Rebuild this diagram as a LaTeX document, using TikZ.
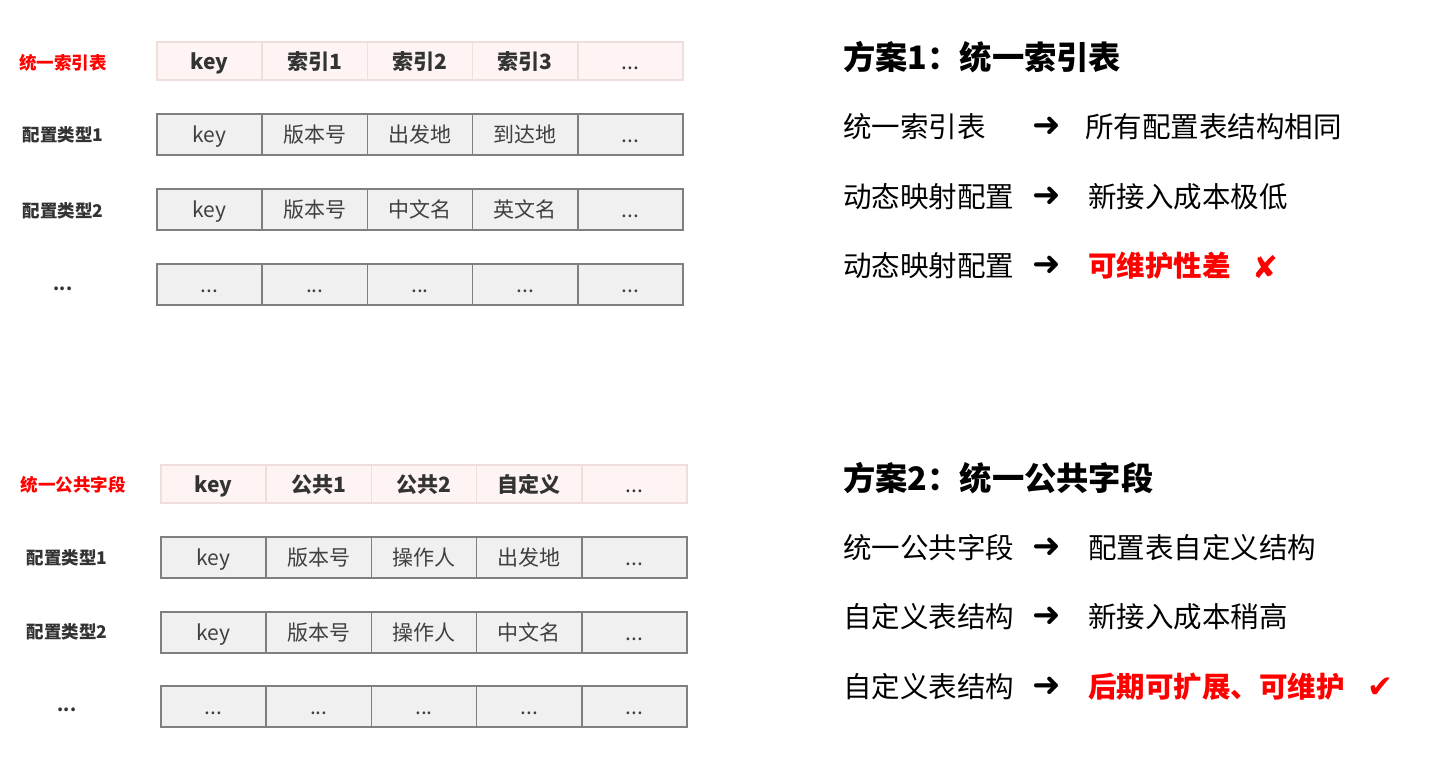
\documentclass[tikz,border=0pt]{standalone}
\usepackage{fontspec}
\setmainfont{Noto Sans CJK SC}
\newfontfamily\symfont{DejaVu Sans}
\definecolor{hdrfill}{HTML}{FDF4F3}
\definecolor{hdrline}{HTML}{F0DEDC}
\definecolor{rowfill}{HTML}{F0F0F0}
\definecolor{rowline}{HTML}{7F7F7F}
\definecolor{celltext}{HTML}{404040}
\definecolor{labeltext}{HTML}{333333}
\definecolor{alertred}{HTML}{FF0000}
\newcommand\myel{...}
\newcommand\myelr{\mdseries ...}
\newcommand\mkrow[5]{%
  \foreach \t [count=\i] in {#5} {
    \node[#4] (#1-\i) at ({#2+(\i-0.5)*105.2}, #3) {\t};
  }}
\tikzset{
  hdrcell/.style={draw=hdrline, fill=hdrfill, line width=1.5pt, minimum width=105.2pt, minimum height=38pt, inner sep=0pt,
    text height=18.5pt, text depth=2.5pt,
    font=\fontsize{21}{21}\selectfont\bfseries, text=labeltext},
  rowcell/.style={draw=rowline, fill=rowfill, line width=1.5pt, minimum width=105.2pt, minimum height=41pt, inner sep=0pt,
    text height=18.5pt, text depth=2.5pt,
    font=\fontsize{21}{21}\selectfont, text=celltext},
  sidelabel/.style={inner sep=0pt, text height=15.4pt, text depth=2.1pt, font=\fontsize{17.5}{17.5}\selectfont\bfseries, text=labeltext},
  redlabel/.style={inner sep=0pt, text height=15.4pt, text depth=2.1pt, font=\fontsize{17.5}{17.5}\selectfont\bfseries, text=alertred},
  title/.style={inner sep=0pt, text height=28.4pt, text depth=3.9pt, anchor=west, font=\fontsize{32.3}{32.3}\selectfont\bfseries, text=black},
  linetext/.style={inner sep=0pt, text height=25.1pt, text depth=3.4pt, anchor=west, font=\fontsize{28.5}{28.5}\selectfont, text=black},
  redtext/.style={inner sep=0pt, text height=25.1pt, text depth=3.4pt, anchor=west, font=\fontsize{28.5}{28.5}\selectfont\bfseries, text=alertred},
  arrowsym/.style={inner sep=0pt, font=\symfont\fontsize{34}{34}\selectfont, text=black},
  marksym/.style={inner sep=0pt, font=\symfont\fontsize{31}{31}\selectfont\bfseries, text=alertred},
}
\begin{document}
\begin{tikzpicture}[x=1pt,y=-1pt]
\useasboundingbox (0,0) rectangle (1450,758);
% ---------- top left table ----------
\node[redlabel] (la0) at (63,63) {统一索引表};
\node[sidelabel] (la1) at (63,135) {配置类型1};
\node[sidelabel] (la2) at (63,211) {配置类型2};
\node[sidelabel] (la3) at (63,284) {\myel};
\mkrow{ta0}{157}{61}{hdrcell}{key,索引1,索引2,索引3,\myelr}
\mkrow{ta1}{157}{134.5}{rowcell}{key,版本号,出发地,到达地,\myel}
\mkrow{ta2}{157}{209.5}{rowcell}{key,版本号,中文名,英文名,\myel}
\mkrow{ta3}{157}{284.5}{rowcell}{\myel,\myel,\myel,\myel,\myel}
% ---------- bottom left table ----------
\node[redlabel] (lb0) at (73,485) {统一公共字段};
\node[sidelabel] (lb1) at (67,558) {配置类型1};
\node[sidelabel] (lb2) at (67,632) {配置类型2};
\node[sidelabel] (lb3) at (67,705) {\myel};
\mkrow{tb0}{161}{484}{hdrcell}{key,公共1,公共2,自定义,\myelr}
\mkrow{tb1}{161}{557.5}{rowcell}{key,版本号,操作人,出发地,\myel}
\mkrow{tb2}{161}{632.5}{rowcell}{key,版本号,操作人,中文名,\myel}
\mkrow{tb3}{161}{706.5}{rowcell}{\myel,\myel,\myel,\myel,\myel}
% ---------- right: scheme 1 ----------
\node[title] (s1t) at (843,57) {方案1：统一索引表};
\node[linetext] (s1a) at (843,127) {统一索引表};
\node[arrowsym] (s1aa) at (1047,127) {➜};
\node[linetext] (s1ab) at (1085,127) {所有配置表结构相同};
\node[linetext] (s1b) at (843,197) {动态映射配置};
\node[arrowsym] (s1ba) at (1047,197) {➜};
\node[linetext] (s1bb) at (1088,197) {新接入成本极低};
\node[linetext] (s1c) at (843,266) {动态映射配置};
\node[arrowsym] (s1ca) at (1047,266) {➜};
\node[redtext] (s1cb) at (1088,266) {可维护性差};
\node[marksym] (s1cm) at (1265,267) {✘};
% ---------- right: scheme 2 ----------
\node[title] (s2t) at (843,478) {方案2：统一公共字段};
\node[linetext] (s2a) at (843,548) {统一公共字段};
\node[arrowsym] (s2aa) at (1047,548) {➜};
\node[linetext] (s2ab) at (1088,548) {配置表自定义结构};
\node[linetext] (s2b) at (843,617) {自定义表结构};
\node[arrowsym] (s2ba) at (1047,617) {➜};
\node[linetext] (s2bb) at (1088,617) {新接入成本稍高};
\node[linetext] (s2c) at (843,687) {自定义表结构};
\node[arrowsym] (s2ca) at (1047,687) {➜};
\node[redtext] (s2cb) at (1088,687) {后期可扩展、可维护};
\node[marksym] (s2cm) at (1380,688) {✔};
\end{tikzpicture}
\end{document}
